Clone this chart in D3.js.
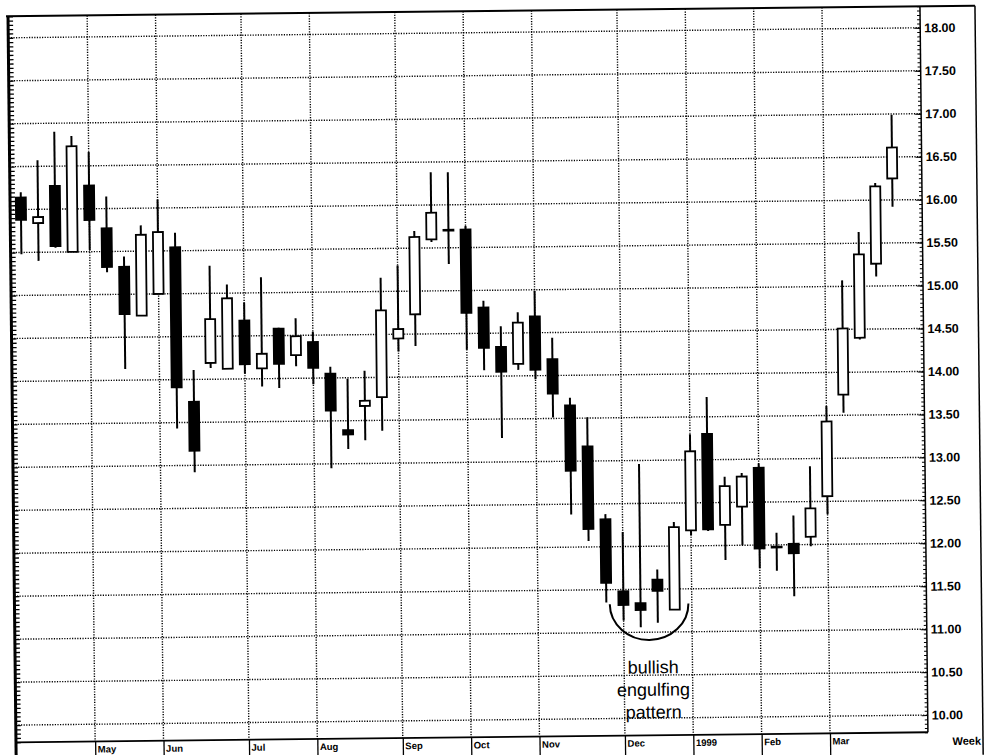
<!DOCTYPE html>
<html>
<head>
<meta charset="utf-8">
<script src="https://cdn.jsdelivr.net/npm/d3@7"></script>
<style>
	body { margin: 0; background: #fff; }
	svg { display: block; }
</style>
</head>
<body>
<div class="chart"></div>
<script>
const width = 988,
	height = 755

// weekly bars, Apr 1998 - Mar 1999
const opens = [
	16.14, 15.84, 16.27, 15.50, 16.27, 15.77, 15.32, 14.75, 15.00, 15.54, 13.74, 14.19, 14.12,
	14.68, 14.12, 14.58, 14.27, 14.42, 14.05, 13.39, 13.67, 13.77, 14.45, 14.73, 15.60, 15.70,
	15.71, 14.80, 14.34, 14.14, 14.69, 14.19, 13.65, 13.17, 12.32, 11.48, 11.34, 11.61, 11.26,
	12.18, 13.30, 12.24, 12.45, 12.90, 11.97, 12.01, 12.09, 12.56, 13.74, 14.40, 15.26, 16.25,
]
const highs = [
	16.20, 16.57, 16.90, 16.85, 16.66, 16.14, 15.44, 15.80, 16.10, 15.71, 14.11, 15.32, 15.10,
	14.89, 15.18, 14.59, 14.70, 14.54, 14.13, 13.99, 14.08, 15.16, 15.30, 15.70, 16.38, 16.38,
	15.75, 14.88, 14.58, 14.74, 14.99, 14.44, 13.74, 13.51, 12.38, 12.17, 12.96, 11.73, 12.28,
	13.30, 13.73, 12.80, 12.84, 12.95, 12.14, 12.34, 12.91, 13.61, 15.07, 15.63, 16.20, 16.99,
]
const lows = [
	15.48, 15.40, 15.55, 15.50, 15.52, 15.26, 14.13, 14.75, 15.00, 13.43, 12.92, 14.13, 14.12,
	14.06, 13.91, 13.89, 14.14, 13.93, 12.95, 13.17, 13.27, 13.38, 14.30, 14.36, 15.57, 15.31,
	14.31, 14.07, 13.28, 14.07, 13.96, 13.51, 12.38, 12.07, 11.35, 11.14, 11.06, 11.11, 11.26,
	12.12, 12.17, 11.83, 12.00, 11.73, 11.70, 11.40, 11.98, 12.35, 13.53, 14.38, 15.11, 15.92,
]
const closes = [
	15.88, 15.91, 15.57, 16.73, 15.87, 15.32, 14.77, 15.69, 15.72, 13.91, 13.17, 14.70, 14.94,
	14.17, 14.29, 14.17, 14.49, 14.12, 13.62, 13.34, 13.73, 14.78, 14.56, 15.63, 15.91, 15.71,
	14.74, 14.33, 14.05, 14.62, 14.07, 13.79, 12.89, 12.21, 11.58, 11.32, 11.26, 11.48, 12.22,
	13.10, 12.19, 12.69, 12.80, 11.96, 11.98, 11.90, 12.42, 13.43, 14.51, 15.37, 16.16, 16.61,
]

const monthLabels = ['May', 'Jun', 'Jul', 'Aug', 'Sep', 'Oct', 'Nov', 'Dec', '1999', 'Feb', 'Mar']
const priceTicks = [10, 10.5, 11, 11.5, 12, 12.5, 13, 13.5, 14, 14.5, 15, 15.5, 16, 16.5, 17, 17.5, 18]
const noteLines = ['bullish', 'engulfing', 'pattern']

const weeks = d3.utcMonday.range(new Date(Date.UTC(1998, 3, 6)), new Date(Date.UTC(1999, 3, 5)))
const bars = weeks.map((date, i) => ({
	i,
	date,
	open: opens[i],
	high: highs[i],
	low: lows[i],
	close: closes[i],
}))

// first week of each new month
const monthStarts = bars
	.filter((d, i) => i > 0 && d.date.getUTCMonth() !== bars[i - 1].date.getUTCMonth())
	.map(d => d.i)

const plotLeft = 12,
	plotRight = 924,
	plotTop = 11,
	plotBottom = 737

const x = d3.scaleLinear().domain([0, bars.length - 1]).range([22.8, 894.4])
const y = d3.scaleLinear().domain([9.8, 18.25]).range([plotBottom, plotTop])

const svg = d3
	.select('.chart')
	.append('svg')
	.attr('width', width)
	.attr('height', height)
	.style('font-family', 'Arial, "Liberation Sans", sans-serif')

// the page was scanned slightly crooked
const g = svg.append('g').attr('transform', 'rotate(-0.63 494 377)')

// grid
g.append('g')
	.selectAll('line')
	.data(priceTicks)
	.join('line')
	.attr('x1', plotLeft)
	.attr('x2', plotRight)
	.attr('y1', d => y(d))
	.attr('y2', d => y(d))
	.attr('stroke', '#000')
	.attr('stroke-width', 1.4)
	.attr('stroke-dasharray', '1.2,1.4')

g.append('g')
	.selectAll('line')
	.data(monthStarts)
	.join('line')
	.attr('x1', d => x(d))
	.attr('x2', d => x(d))
	.attr('y1', plotTop)
	.attr('y2', plotBottom)
	.attr('stroke', '#000')
	.attr('stroke-width', 1.4)
	.attr('stroke-dasharray', '1.2,1.4')

// candles
const candle = g.append('g').selectAll('g').data(bars).join('g')

candle
	.append('line')
	.attr('x1', d => x(d.i))
	.attr('x2', d => x(d.i))
	.attr('y1', d => y(d.high))
	.attr('y2', d => y(d.low))
	.attr('stroke', '#000')
	.attr('stroke-width', 2)

candle
	.append('rect')
	.attr('x', d => x(d.i) - 5)
	.attr('width', 10)
	.attr('y', d => y(Math.max(d.open, d.close)))
	.attr('height', d => Math.max(Math.abs(y(d.open) - y(d.close)), 0.4))
	.attr('fill', d => (d.close >= d.open ? '#fff' : '#000'))
	.attr('stroke', '#000')
	.attr('stroke-width', 1.8)

// price axis on the right
const minorTicks = d3.range(196, 366).map(k => k / 20)

g.append('g')
	.attr('transform', `translate(${plotRight},0)`)
	.call(d3.axisRight(y).tickValues(minorTicks).tickSize(-3).tickFormat(''))
	.call(a => a.select('.domain').remove())

const priceAxis = g
	.append('g')
	.attr('transform', `translate(${plotRight},0)`)
	.call(d3.axisRight(y).tickValues(priceTicks).tickSize(-6).tickPadding(4).tickFormat(d3.format('.2f')))
	.call(a => a.select('.domain').remove())

priceAxis
	.selectAll('text')
	.style('font-size', '12.5px')
	.style('font-weight', 'bold')
	.attr('fill', '#000')

g.append('g')
	.attr('transform', `translate(${plotLeft},0)`)
	.call(d3.axisLeft(y).tickValues(minorTicks).tickSize(-5).tickFormat(''))
	.call(a => a.select('.domain').remove())
	.selectAll('line')
	.attr('stroke-width', 1.3)

// frame
g.append('line')
	.attr('x1', plotRight)
	.attr('x2', plotRight)
	.attr('y1', plotTop)
	.attr('y2', plotBottom)
	.attr('stroke', '#000')
	.attr('stroke-width', 1.5)

g.append('line')
	.attr('x1', plotLeft)
	.attr('x2', plotLeft)
	.attr('y1', plotTop)
	.attr('y2', height + 5)
	.attr('stroke', '#000')
	.attr('stroke-width', 3)

g.append('line')
	.attr('x1', plotLeft - 2)
	.attr('x2', 979)
	.attr('y1', plotTop)
	.attr('y2', plotTop)
	.attr('stroke', '#000')
	.attr('stroke-width', 2)

g.append('line')
	.attr('x1', 979)
	.attr('x2', 979)
	.attr('y1', plotTop)
	.attr('y2', height + 5)
	.attr('stroke', '#000')
	.attr('stroke-width', 1.5)

g.append('line')
	.attr('x1', plotLeft)
	.attr('x2', plotRight)
	.attr('y1', plotBottom)
	.attr('y2', plotBottom)
	.attr('stroke', '#000')
	.attr('stroke-width', 1.8)

// month strip
const timeAxis = g
	.append('g')
	.attr('transform', `translate(0,${plotBottom})`)
	.call(d3.axisBottom(x).tickValues(monthStarts).tickSize(22).tickFormat((d, i) => monthLabels[i]))
	.call(a => a.select('.domain').remove())

timeAxis.selectAll('line').attr('stroke-width', 1.3)

timeAxis
	.selectAll('text')
	.attr('x', 2)
	.attr('y', 4.4)
	.attr('text-anchor', 'start')
	.attr('fill', '#000')
	.style('font-size', '9.5px')
	.style('font-weight', 'bold')

g.append('text')
	.attr('x', 977)
	.attr('y', 750)
	.attr('text-anchor', 'end')
	.style('font-size', '11px')
	.style('font-weight', 'bold')
	.text('Week')

// annotation under the low weeks
const arcFrom = 34.2,
	arcTo = 38.8,
	arcTop = 11.33,
	arcBottom = 10.91

const rx = (x(arcTo) - x(arcFrom)) / 2,
	ry = y(arcBottom) - y(arcTop)

g.append('path')
	.attr('d', `M${x(arcFrom)},${y(arcTop)} A${rx},${ry} 0 0 0 ${x(arcTo)},${y(arcTop)}`)
	.attr('fill', 'none')
	.attr('stroke', '#000')
	.attr('stroke-width', 2)

g.append('g')
	.selectAll('text')
	.data(noteLines)
	.join('text')
	.attr('x', x(36.7))
	.attr('y', (d, i) => y(10.52) + i * 22.4)
	.attr('text-anchor', 'middle')
	.style('font-size', '18px')
	.text(d => d)
</script>
</body>
</html>
